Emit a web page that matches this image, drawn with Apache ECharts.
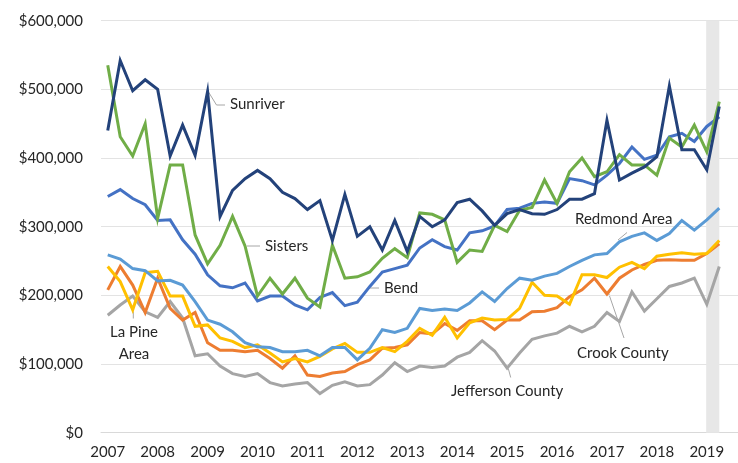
<!DOCTYPE html>
<html><head><meta charset="utf-8">
<script src="https://cdn.jsdelivr.net/npm/echarts@6/dist/echarts.min.js"></script>
<style>html,body{margin:0;padding:0;background:#fff}#c{width:738px;height:463px}</style>
</head><body><div id="c"></div>
<script>
const quarters = ['2007 Q1','2007 Q2','2007 Q3','2007 Q4','2008 Q1','2008 Q2','2008 Q3','2008 Q4','2009 Q1','2009 Q2','2009 Q3','2009 Q4','2010 Q1','2010 Q2','2010 Q3','2010 Q4','2011 Q1','2011 Q2','2011 Q3','2011 Q4','2012 Q1','2012 Q2','2012 Q3','2012 Q4','2013 Q1','2013 Q2','2013 Q3','2013 Q4','2014 Q1','2014 Q2','2014 Q3','2014 Q4','2015 Q1','2015 Q2','2015 Q3','2015 Q4','2016 Q1','2016 Q2','2016 Q3','2016 Q4','2017 Q1','2017 Q2','2017 Q3','2017 Q4','2018 Q1','2018 Q2','2018 Q3','2018 Q4','2019 Q1','2019 Q2'];
const yearLabels = ['2007','2008','2009','2010','2011','2012','2013','2014','2015','2016','2017','2018','2019'];

const sunriver = [440000,542000,498000,514000,500000,403000,448000,404000,497000,315000,353000,370000,382000,370000,350000,341000,325000,338000,280000,347000,286000,300000,266000,309000,264000,315000,300000,310000,335000,340000,323000,302000,319000,325000,319000,318000,325000,340000,340000,348000,455000,368000,378000,387000,402000,505000,412000,412000,383000,475000];
const sisters = [535000,431000,403000,450000,312000,390000,390000,288000,246000,273000,315000,272000,199000,225000,202000,225000,196000,183000,273000,225000,227000,234000,254000,268000,255000,320000,318000,310000,248000,266000,264000,302000,293000,324000,328000,368000,334000,380000,400000,373000,380000,405000,390000,390000,375000,429000,416000,448000,409000,482000];
const bend = [344000,354000,341000,332000,309000,310000,281000,260000,230000,214000,211000,218000,192000,199000,199000,186000,179000,197000,204000,185000,190000,213000,234000,239000,244000,269000,281000,271000,266000,291000,294000,301000,325000,327000,334000,336000,334000,370000,367000,361000,375000,392000,416000,398000,404000,431000,436000,424000,446000,460000];
const redmond = [259000,253000,239000,236000,221000,222000,215000,191000,164000,158000,147000,131000,125000,124000,118000,118000,120000,112000,124000,124000,106000,123000,150000,146000,152000,181000,178000,180000,178000,189000,205000,191000,210000,225000,222000,228000,232000,242000,251000,259000,261000,278000,286000,291000,280000,290000,309000,295000,310000,327000];
const crook = [208000,242000,215000,175000,225000,181000,164000,175000,131000,120000,120000,118000,120000,108000,94000,112000,84000,82000,87000,89000,99000,106000,123000,124000,128000,146000,144000,159000,149000,163000,163000,150000,164000,164000,176000,177000,182000,198000,208000,225000,202000,225000,237000,245000,251000,252000,251000,251000,261000,275000];
const laPine = [242000,220000,179000,233000,235000,199000,199000,155000,157000,138000,133000,124000,128000,116000,103000,108000,103000,111000,122000,130000,117000,117000,124000,118000,133000,152000,142000,168000,138000,160000,167000,164000,165000,181000,219000,200000,199000,187000,230000,230000,226000,241000,248000,239000,257000,260000,262000,260000,261000,280000];
const jefferson = [171000,186000,199000,176000,168000,191000,167000,112000,115000,97000,86000,82000,86000,73000,68000,71000,73000,57000,69000,74000,68000,70000,84000,102000,89000,97000,95000,97000,110000,117000,134000,119000,94000,116000,136000,141000,145000,155000,147000,155000,175000,162000,205000,177000,195000,213000,218000,225000,187000,242000];

const FONT = 'Lato, "Open Sans", sans-serif';
const TXT = '#262626';

function mk(name, vals, color, extra) {
  return Object.assign({
    name: name, type: 'line', symbol: 'none', smooth: false,
    data: vals.map((v, i) => [i, v]),
    lineStyle: { color: color, width: 3, join: 'miter' },
    itemStyle: { color: color },
    emphasis: { disabled: true },
    animation: false
  }, extra || {});
}

const chart = echarts.init(document.getElementById('c'), null, { renderer: 'canvas' });
const labelStyle = { fill: TXT, font: '15px ' + FONT };
const leader = { stroke: '#a6a6a6', lineWidth: 1 };
function txt(x, y, s, align) {
  return { type: 'text', x: x, y: y, style: Object.assign({ text: s, textAlign: align || 'left', textVerticalAlign: 'middle' }, labelStyle), silent: true };
}
function pl(points) {
  return { type: 'polyline', shape: { points: points }, style: Object.assign({ fill: null }, leader), silent: true };
}

chart.setOption({
  animation: false,
  grid: { left: 101, right: 0, top: 20.7, bottom: 30.3, containLabel: false },
  xAxis: {
    type: 'value', min: -0.54, max: 50.5,
    axisLine: { show: true, lineStyle: { color: '#d9d9d9', width: 1 } },
    axisTick: { show: false },
    splitLine: { show: false },
    axisLabel: {
      customValues: yearLabels.map((y, k) => k * 4),
      formatter: v => yearLabels[Math.round(v / 4)],
      margin: 12, fontSize: 15, color: TXT, fontFamily: FONT
    }
  },
  yAxis: {
    type: 'value', min: 0, max: 600000, interval: 100000,
    axisLine: { show: false }, axisTick: { show: false },
    splitLine: { lineStyle: { color: '#e3e3e3', width: 1 } },
    axisLabel: {
      formatter: v => '$' + v.toLocaleString('en-US'),
      margin: 18, fontSize: 15, color: TXT, fontFamily: FONT
    }
  },
  series: [
    mk('Jefferson County', jefferson, '#A5A5A5', {
      markArea: { silent: true, itemStyle: { color: '#e7e7e7' }, data: [[{ xAxis: 47.95 }, { xAxis: 49 }]] }
    }),
    mk('Crook County', crook, '#ED7D31'),
    mk('La Pine Area', laPine, '#FFC000'),
    mk('Redmond Area', redmond, '#5B9BD5'),
    mk('Bend', bend, '#4472C4'),
    mk('Sisters', sisters, '#70AD47'),
    mk('Sunriver', sunriver, '#23427A')
  ],
  graphic: [
    pl([[208.5, 92], [216.5, 105], [225, 105]]), txt(230, 104, 'Sunriver'),
    pl([[247, 246], [260, 246]]), txt(265, 246, 'Sisters'),
    pl([[369, 288], [379, 288]]), txt(384, 288, 'Bend'),
    pl([[618, 240], [627, 232.5]]), txt(575, 219, 'Redmond Area'),
    pl([[133.3, 311.5], [133.3, 318.5]]), txt(134, 332, 'La Pine', 'center'), txt(134, 354, 'Area', 'center'),
    pl([[608.5, 293], [624, 338]]), txt(577, 353, 'Crook County'),
    pl([[508.3, 368.5], [510.7, 377.5]]), txt(451, 391, 'Jefferson County')
  ]
});
</script>
</body></html>
